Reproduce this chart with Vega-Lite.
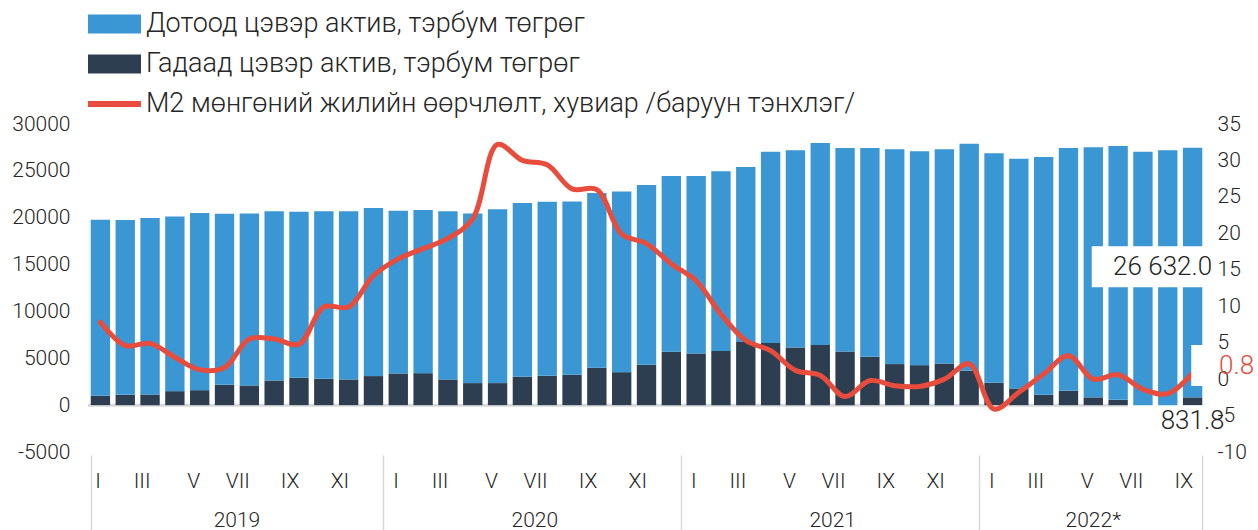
{
  "$schema": "https://vega.github.io/schema/vega-lite/v6.json",
  "width": 1117,
  "height": 328,
  "autosize": {"type": "none"},
  "padding": {"left": 88, "top": 124, "right": 53, "bottom": 78},
  "background": "white",
  "config": {
    "view": {"stroke": null},
    "font": "Roboto",
    "locale": {"number": {"decimal": ".", "thousands": " ", "grouping": [3], "currency": ["", ""], "minus": "-"}}
  },
  "datasets": {
    "d": [
      {"m": "2019-01", "dom": 18770, "fgn": 1000, "m2": 7.8},
      {"m": "2019-02", "dom": 18650, "fgn": 1100, "m2": 4.6},
      {"m": "2019-03", "dom": 18820, "fgn": 1140, "m2": 4.9},
      {"m": "2019-04", "dom": 18645, "fgn": 1495, "m2": 3.0},
      {"m": "2019-05", "dom": 18900, "fgn": 1600, "m2": 1.3},
      {"m": "2019-06", "dom": 18260, "fgn": 2170, "m2": 1.6},
      {"m": "2019-07", "dom": 18360, "fgn": 2100, "m2": 5.5},
      {"m": "2019-08", "dom": 18050, "fgn": 2630, "m2": 5.5},
      {"m": "2019-09", "dom": 17720, "fgn": 2920, "m2": 4.8},
      {"m": "2019-10", "dom": 17870, "fgn": 2810, "m2": 9.9},
      {"m": "2019-11", "dom": 17940, "fgn": 2740, "m2": 9.9},
      {"m": "2019-12", "dom": 17930, "fgn": 3100, "m2": 14.2},
      {"m": "2020-01", "dom": 17370, "fgn": 3380, "m2": 16.5},
      {"m": "2020-02", "dom": 17405, "fgn": 3415, "m2": 17.9},
      {"m": "2020-03", "dom": 17940, "fgn": 2740, "m2": 19.3},
      {"m": "2020-04", "dom": 18110, "fgn": 2350, "m2": 22.0},
      {"m": "2020-05", "dom": 18540, "fgn": 2350, "m2": 32.2},
      {"m": "2020-06", "dom": 18535, "fgn": 3025, "m2": 30.0},
      {"m": "2020-07", "dom": 18580, "fgn": 3130, "m2": 29.4},
      {"m": "2020-08", "dom": 18500, "fgn": 3240, "m2": 26.1},
      {"m": "2020-09", "dom": 18645, "fgn": 3985, "m2": 26.0},
      {"m": "2020-10", "dom": 19290, "fgn": 3520, "m2": 19.9},
      {"m": "2020-11", "dom": 19185, "fgn": 4305, "m2": 18.6},
      {"m": "2020-12", "dom": 18760, "fgn": 5690, "m2": 15.8},
      {"m": "2021-01", "dom": 18935, "fgn": 5515, "m2": 13.5},
      {"m": "2021-02", "dom": 19185, "fgn": 5765, "m2": 8.9},
      {"m": "2021-03", "dom": 18685, "fgn": 6725, "m2": 5.3},
      {"m": "2021-04", "dom": 20430, "fgn": 6620, "m2": 3.9},
      {"m": "2021-05", "dom": 21035, "fgn": 6155, "m2": 1.2},
      {"m": "2021-06", "dom": 21550, "fgn": 6420, "m2": 0.5},
      {"m": "2021-07", "dom": 21710, "fgn": 5730, "m2": -2.4},
      {"m": "2021-08", "dom": 22280, "fgn": 5160, "m2": -0.2},
      {"m": "2021-09", "dom": 22920, "fgn": 4380, "m2": -0.9},
      {"m": "2021-10", "dom": 22810, "fgn": 4270, "m2": -1.0},
      {"m": "2021-11", "dom": 22850, "fgn": 4450, "m2": 0.0},
      {"m": "2021-12", "dom": 24235, "fgn": 3665, "m2": 2.1},
      {"m": "2022-01", "dom": 24485, "fgn": 2385, "m2": -4.1},
      {"m": "2022-02", "dom": 24520, "fgn": 1780, "m2": -1.8},
      {"m": "2022-03", "dom": 25375, "fgn": 1105, "m2": 0.7},
      {"m": "2022-04", "dom": 25910, "fgn": 1530, "m2": 3.2},
      {"m": "2022-05", "dom": 26680, "fgn": 830, "m2": 0.0},
      {"m": "2022-06", "dom": 27080, "fgn": 570, "m2": 0.6},
      {"m": "2022-07", "dom": 27050, "fgn": 0, "m2": -1.4},
      {"m": "2022-08", "dom": 27190, "fgn": 0, "m2": -2.0},
      {"m": "2022-09", "dom": 26632.0, "fgn": 831.8, "m2": 0.8}
    ]
  },
  "data": {"name": "d"},
  "layer": [
    {
      "layer": [
        {
          "data": {"values": [{}]},
          "mark": {"type": "rule", "color": "#d9d9d9", "strokeWidth": 3},
          "encoding": {
            "x": {"datum": "2019-01", "type": "nominal", "bandPosition": -0.14},
            "x2": {"datum": "2022-06", "bandPosition": 1},
            "y": {"datum": 0, "type": "quantitative"}
          }
        },
        {
          "transform": [{"fold": ["fgn", "dom"], "as": ["s", "v"]}],
          "mark": {"type": "bar"},
          "encoding": {
            "x": {
              "field": "m", "type": "nominal",
              "scale": {"paddingInner": 0.22, "paddingOuter": 0.11},
              "axis": {
                "title": null, "domain": false, "grid": false,
                "tickBand": "extent", "tickSize": 75, "tickColor": "#d9d9d9", "tickWidth": 1.5, "tickOffset": 2.7,
                "tickOpacity": {"condition": {"test": "datum.extra || (isString(datum.value) && (slice(datum.value, 5) === '12' || datum.value === '2022-09'))", "value": 1}, "value": 0},
                "offset": 3, "labelPadding": -49,
                "labelAngle": 0, "labelOverlap": false,
                "labelFontSize": 21, "labelFontWeight": 300, "labelColor": "#262626", "labelFont": "Roboto",
                "labelExpr": "isString(datum.value) && toNumber(slice(datum.value, 5)) % 2 === 1 ? ['I','II','III','IV','V','VI','VII','VIII','IX','X','XI','XII'][toNumber(slice(datum.value, 5)) - 1] : ''"
              }
            },
            "y": {
              "field": "v", "type": "quantitative", "stack": "zero",
              "scale": {"domain": [-5000, 30000], "nice": false, "zero": false},
              "axis": {
                "title": null, "values": [-5000, 0, 5000, 10000, 15000, 20000, 25000, 30000],
                "format": "d", "ticks": false, "domain": false, "grid": false,
                "labelPadding": 18, "labelFontSize": 21, "labelFontWeight": 300, "labelColor": "#262626", "labelFont": "Roboto"
              }
            },
            "color": {
              "field": "s", "type": "nominal",
              "scale": {"domain": ["dom", "fgn", "m2"], "range": ["#3A97D4", "#2C3E50", "#E74C3C"]},
              "legend": {
                "title": null, "orient": "none", "legendX": 0, "legendY": -126.5, "direction": "vertical",
                "padding": 0, "symbolType": "M-1,-0.36H1V0.36H-1Z", "symbolSize": 2809, "symbolStrokeWidth": 0,
                "labelFontSize": 27, "labelFontWeight": 300, "labelFont": "Roboto", "labelColor": "#262626",
                "labelOffset": 5, "rowPadding": -11.5, "labelLimit": 1000,
                "labelExpr": "datum.value === 'dom' ? 'Дотоод цэвэр актив, тэрбум төгрөг' : datum.value === 'fgn' ? 'Гадаад цэвэр актив, тэрбум төгрөг' : 'M2 мөнгөний жилийн өөрчлөлт, хувиар /баруун тэнхлэг/'",
                "encode": {"symbols": {"update": {"shape": {"signal": "datum.index === 2 ? 'M-1,-0.11H1V0.11H-1Z' : 'M-1,-0.36H1V0.36H-1Z'"}}}}
              }
            },
            "order": {"field": "s", "sort": "descending"}
          }
        },
        {
          "data": {"values": [{}]},
          "mark": {"type": "rect", "color": "white"},
          "encoding": {
            "x": {"datum": "2022-05", "type": "nominal", "bandPosition": 0.42},
            "x2": {"datum": "2022-09", "bandPosition": 1.56},
            "y": {"datum": 16950, "type": "quantitative"},
            "y2": {"datum": 12575}
          }
        },
        {
          "transform": [{"filter": "datum.m === '2022-09'"}],
          "mark": {"type": "text", "fontSize": 26, "fontWeight": 300, "font": "Roboto", "color": "#262626", "dx": -30},
          "encoding": {
            "x": {"field": "m", "type": "nominal"},
            "y": {"datum": 14700, "type": "quantitative"},
            "text": {"field": "dom", "type": "quantitative", "format": ",.1f"}
          }
        },
        {
          "transform": [{"filter": "datum.m === '2022-09'"}],
          "mark": {"type": "text", "fontSize": 26, "fontWeight": 300, "font": "Roboto", "color": "#262626"},
          "encoding": {
            "x": {"field": "m", "type": "nominal"},
            "y": {"datum": -1650, "type": "quantitative"},
            "text": {"field": "fgn", "type": "quantitative", "format": ",.1f"}
          }
        }
      ]
    },
    {
      "mark": {"type": "line", "color": "#E74C3C", "strokeWidth": 5, "interpolate": "catmull-rom", "strokeCap": "round"},
      "encoding": {
        "x": {
          "field": "m", "type": "nominal",
          "axis": {
            "orient": "bottom", "title": null, "values": ["2019-07", "2020-07", "2021-07", "2022-05"],
            "ticks": false, "domain": false, "grid": false, "labelPadding": 57, "labelAngle": 0, "labelOverlap": false,
            "labelOffset": {"condition": {"test": "datum.value === '2022-05'", "value": 0}, "value": -12.4},
            "labelFontSize": 21, "labelFontWeight": 300, "labelColor": "#262626", "labelFont": "Roboto",
            "labelExpr": "datum.value === '2022-05' ? '2022*' : (isString(datum.value) ? slice(datum.value, 0, 4) : '')"
          }
        },
        "y": {
          "field": "m2", "type": "quantitative",
          "scale": {"domain": [-10, 35], "nice": false, "zero": false},
          "axis": {
            "orient": "right", "title": null, "values": [-10, -5, 0, 5, 10, 15, 20, 25, 30, 35],
            "ticks": false, "domain": false, "grid": false, "labelPadding": 12,
            "labelFontSize": 21, "labelFontWeight": 300, "labelColor": "#262626", "labelFont": "Roboto"
          }
        }
      }
    },
    {
      "layer": [
        {
          "data": {"values": [{}]},
          "mark": {"type": "rect", "color": "white"},
          "encoding": {
            "x": {"datum": "2022-09", "type": "nominal", "bandPosition": 0.43, "axis": null},
            "x2": {"datum": "2022-09", "bandPosition": 1.56},
            "y": {"datum": 6415, "type": "quantitative", "scale": {"domain": [-5000, 30000], "nice": false, "zero": false}, "axis": null},
            "y2": {"datum": 2040}
          }
        },
        {
          "transform": [{"filter": "datum.m === '2022-09'"}],
          "mark": {"type": "text", "fontSize": 26, "fontWeight": 300, "font": "Roboto", "color": "#E74C3C", "dx": 44},
          "encoding": {
            "x": {"field": "m", "type": "nominal", "axis": null},
            "y": {"datum": 4170, "type": "quantitative", "axis": null},
            "text": {"field": "m2", "type": "quantitative", "format": ".1f"}
          }
        }
      ]
    }
  ],
  "resolve": {"scale": {"y": "independent"}, "axis": {"x": "independent"}}
}
